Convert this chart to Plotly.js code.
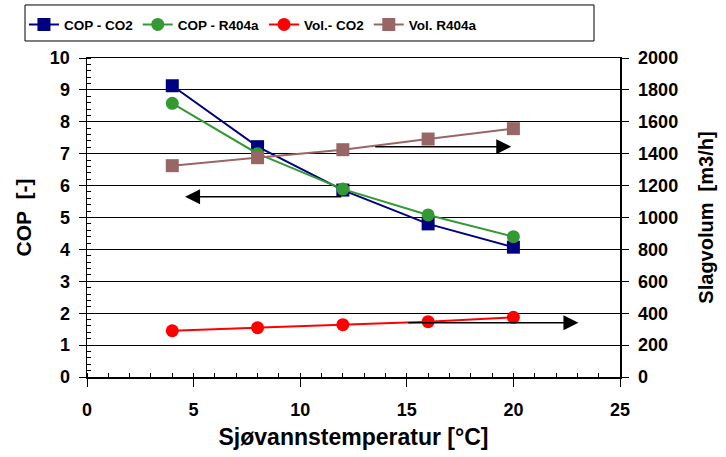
<!DOCTYPE html>
<html>
<head>
<meta charset="utf-8">
<script src="https://cdn.plot.ly/plotly-3.0.1.min.js"></script>
<style>html,body{margin:0;padding:0;background:#fff;}#chart{width:726px;height:457px;}</style>
</head>
<body>
<div id="chart"></div>
<script>
const temps = [4, 8, 12, 16, 20];
const copCO2 = [9.13, 7.22, 5.86, 4.80, 4.07];
const copR404a = [8.58, 7.00, 5.89, 5.08, 4.40];
const volCO2 = [290, 309, 328, 347, 374];
const volR404a = [1325, 1375, 1425, 1492, 1557];
const names = ['COP - CO2', 'COP - R404a', 'Vol.- CO2', 'Vol. R404a'];

const FAM = 'Liberation Sans, Arial, sans-serif';
const F = {family: FAM, color: '#000', weight: 700};

const traces = [
  {x: temps, y: copCO2, name: names[0], type: 'scatter', mode: 'lines+markers',
   line: {color: '#000080', width: 2}, marker: {symbol: 'square', size: 13, color: '#000080'}},
  {x: temps, y: copR404a, name: names[1], type: 'scatter', mode: 'lines+markers',
   line: {color: '#339933', width: 2}, marker: {symbol: 'circle', size: 13, color: '#339933'}},
  {x: temps, y: volCO2, name: names[2], type: 'scatter', mode: 'lines+markers', yaxis: 'y2',
   line: {color: '#ff0000', width: 2}, marker: {symbol: 'circle', size: 13, color: '#ff0000'}},
  {x: temps, y: volR404a, name: names[3], type: 'scatter', mode: 'lines+markers', yaxis: 'y2',
   line: {color: '#996666', width: 2}, marker: {symbol: 'square', size: 13, color: '#996666'}}
];

const arrows = [
  {x: 4.6, y: 5.65, ax: 12.0, ay: 5.65},
  {x: 19.9, y: 7.22, ax: 13.45, ay: 7.22},
  {x: 23.05, y: 1.70, ax: 15.0, ay: 1.70}
];

const tf = {family: FAM, size: 18, color: '#000', weight: 700};

const layout = {
  width: 726, height: 457,
  margin: {l: 87, r: 106, t: 58, b: 80},
  paper_bgcolor: '#fff', plot_bgcolor: '#fff',
  font: F,
  showlegend: true,
  legend: {orientation: 'h', xref: 'container', yref: 'container', x: 0.033, xanchor: 'left',
           y: 0.98, yanchor: 'top',
           font: {family: FAM, size: 13.5, color: '#000', weight: 700},
           itemwidth: 30, bgcolor: 'rgba(0,0,0,0)', traceorder: 'normal'},
  xaxis: {range: [0, 25], dtick: 5, tick0: 0, showgrid: false, zeroline: false, automargin: false,
          showline: true, linecolor: '#000', linewidth: 1.5, mirror: true,
          ticks: 'outside', ticklen: 8, tickcolor: '#000', ticklabelstandoff: 8,
          minor: {dtick: 1, ticks: 'inside', ticklen: 4, tickcolor: '#000', showgrid: false},
          tickfont: tf,
          title: {text: 'Sjøvannstemperatur [°C]', standoff: 10,
                  font: {family: FAM, size: 23, color: '#000', weight: 700}}},
  yaxis: {range: [0, 10], dtick: 1, showgrid: true, gridcolor: '#000', gridwidth: 1, zeroline: false, automargin: false,
          showline: true, linecolor: '#000', linewidth: 1.5,
          ticks: 'outside', ticklen: 7, tickcolor: '#000', ticklabelstandoff: 5,
          minor: {dtick: 0.2, ticks: 'inside', ticklen: 4, tickcolor: '#000', showgrid: false},
          tickfont: tf,
          title: {text: 'COP  [-]', standoff: 12,
                  font: {family: FAM, size: 21, color: '#000', weight: 700}}},
  yaxis2: {range: [0, 2000], dtick: 200, overlaying: 'y', side: 'right', showgrid: false, zeroline: false, automargin: false,
           showline: true, linecolor: '#000', linewidth: 1.5,
           ticks: 'outside', ticklen: 7, tickcolor: '#000', ticklabelstandoff: 6,
           tickfont: tf,
           title: {text: 'Slagvolum  [m3/h]', standoff: 22,
                   font: {family: FAM, size: 20, color: '#000', weight: 700}}},
  shapes: [
    {type: 'rect', xref: 'paper', yref: 'paper', x0: -0.1163, x1: 0.9512, y0: 1.0533, y1: 1.1662,
     line: {color: '#000', width: 1}, fillcolor: 'rgba(0,0,0,0)', layer: 'above'}
  ],
  annotations: arrows.map(a => ({x: a.x, y: a.y, ax: a.ax, ay: a.ay, xref: 'x', yref: 'y',
    axref: 'x', ayref: 'y', showarrow: true, arrowhead: 2, arrowsize: 2, arrowwidth: 1.5,
    arrowcolor: '#000', text: ''}))
};

Plotly.newPlot('chart', traces, layout, {displayModeBar: false, staticPlot: true});
</script>
</body>
</html>
